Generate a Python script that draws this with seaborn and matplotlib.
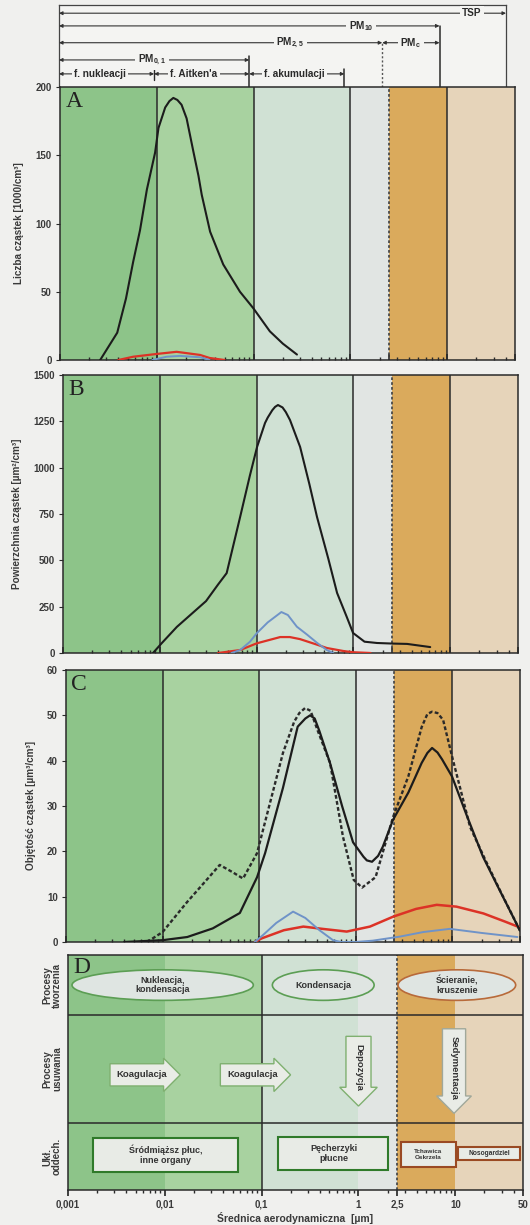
import numpy as np
import seaborn as sns
import matplotlib.pyplot as plt
from matplotlib.patches import Ellipse, Rectangle
from matplotlib.ticker import NullLocator, NullFormatter

# granice frakcji [um] i kolory tla
edges = [0.001, 0.01, 0.1, 1, 2.5, 10, 50]
band_colors = ['#8dc489', '#a8d2a0', '#d0e1d4', '#e1e5e3', '#daaa5c', '#e6d4ba']
xticks = [0.001, 0.01, 0.1, 1, 2.5, 10, 50]
xticklabels = ['0,001', '0,01', '0,1', '1', '2,5', '10', '50']

# A - liczba czastek [1000/cm3]
a_black_d = [0.0026, 0.0039, 0.0048, 0.0057, 0.0067, 0.0079, 0.0096, 0.0104, 0.0122, 0.0135, 0.0148,
             0.0163, 0.018, 0.0203, 0.0238, 0.0269, 0.0291, 0.0355, 0.0485, 0.0722, 0.099, 0.147, 0.2, 0.28]
a_black_v = [0, 20, 45, 72, 95, 125, 152, 170, 185, 189.7, 192,
             190.5, 187, 177, 153, 135, 121, 94, 70, 50, 38, 21, 12, 4]
a_red_d = [0.004, 0.0057, 0.0099, 0.016, 0.028, 0.035, 0.05]
a_red_v = [0, 2.4, 4.4, 6, 3.7, 1.5, 0]
a_blue_d = [0.009, 0.0126, 0.0174, 0.028, 0.035]
a_blue_v = [0, 2.4, 3, 2, 0]

# B - powierzchnia czastek [um2/cm3]
b_black_d = [0.0085, 0.0105, 0.015, 0.03, 0.04, 0.049, 0.0675, 0.085, 0.101, 0.122, 0.13, 0.145, 0.155,
             0.166, 0.185, 0.2, 0.221, 0.281, 0.35, 0.42, 0.55, 0.677, 0.85, 0.99, 1.3, 1.75, 2.5, 3.58, 6.2]
b_black_v = [0, 54, 141, 280, 370, 431, 734, 956, 1112, 1241, 1270, 1310, 1328,
             1338, 1325, 1300, 1257, 1112, 912, 734, 508, 324, 196, 108, 61, 54, 51, 49, 32]
b_blue_d = [0.055, 0.0675, 0.085, 0.1, 0.13, 0.18, 0.21, 0.26, 0.33, 0.42, 0.53, 0.62]
b_blue_v = [0, 16, 60, 106, 165, 221, 205, 142, 100, 55, 16, 0]
b_red_d = [0.04, 0.0675, 0.1, 0.175, 0.22, 0.28, 0.42, 0.53, 0.8, 1.0, 1.5]
b_red_v = [0, 16, 52, 86, 86, 75, 45, 27, 10, 4, 0]

# C - objetosc czastek [um3/cm3]
c_solid_d = [0.004, 0.01, 0.018, 0.033, 0.063, 0.095, 0.115, 0.176, 0.25, 0.3, 0.336, 0.375, 0.42, 0.54,
             0.72, 0.935, 1.2, 1.3, 1.47, 1.7, 1.9, 2.43, 3.5, 4.8, 5.5, 6.15, 7, 7.8, 9.9, 14, 20.7, 30, 50]
c_solid_v = [0, 0.4, 1.1, 3, 6.4, 14.3, 19.6, 34, 47.5, 49.3, 50, 49.3, 46.5, 39.5,
             30, 22, 18.8, 18, 17.7, 19, 21, 27, 33, 39.5, 41.7, 42.8, 41.8, 40.3, 36.5, 28, 18.8, 11.9, 2.5]
c_dash_d = [0.0069, 0.01, 0.0179, 0.028, 0.039, 0.052, 0.068, 0.0949, 0.115, 0.176, 0.23, 0.26, 0.298,
            0.34, 0.4, 0.541, 0.736, 0.95, 1.16, 1.6, 2.43, 3.5, 4.8, 5.5, 6.15, 7, 8, 10.1, 12, 15.2,
            22, 32, 50]
c_dash_v = [0, 2.2, 8.8, 13.5, 17, 15.5, 14, 19.6, 26.5, 41.7, 48.6, 50.5, 51.6,
            51, 46.8, 39.5, 23.2, 13.7, 12, 14.3, 27.6, 36.6, 47.4, 50.3, 50.8, 50.5, 49, 40.2, 34, 25.4,
            18, 10.8, 2.5]
c_blue_d = [0.09, 0.109, 0.15, 0.224, 0.3, 0.42, 0.58, 0.7, 1.0, 1.5, 2.87, 5, 9.4, 20, 47]
c_blue_v = [0, 1.5, 4.2, 6.7, 5.3, 2.6, 0.4, 0, 0, 0.3, 1.2, 2.2, 2.9, 2.0, 1.1]
c_red_d = [0.09, 0.106, 0.18, 0.286, 0.45, 0.805, 1.4, 2.44, 4.2, 6.87, 11, 20.9, 35, 50]
c_red_v = [0, 0.8, 2.6, 3.4, 2.9, 2.3, 3.4, 5.6, 7.3, 8.2, 7.8, 6.3, 4.5, 3.2]

sns.set_theme(style='white')
plt.rcParams['font.family'] = ['Liberation Sans', 'DejaVu Sans']
plt.rcParams['mathtext.fontset'] = 'custom'
plt.rcParams['mathtext.rm'] = 'Liberation Sans:bold'
plt.rcParams['mathtext.default'] = 'rm'

FIG_W, FIG_H = 530, 1225
fig = plt.figure(figsize=(FIG_W / 100, FIG_H / 100), dpi=100)
fig.patch.set_facecolor('#f0f0ee')


def place(left, right, top, bottom):
    return fig.add_axes([left / FIG_W, 1 - bottom / FIG_H, (right - left) / FIG_W, (bottom - top) / FIG_H])


axh = place(59, 506, 5, 87)
axA = place(60, 515, 87, 360)
axB = place(63, 518, 375, 653)
axC = place(66, 520, 670, 942)
axD = place(68, 523, 955, 1190)

INK = '#2a2a2a'
LOG0, LOG1 = np.log10(edges[0]), np.log10(edges[-1])


def fx(d):
    return (np.log10(d) - LOG0) / (LOG1 - LOG0)


def base(ax):
    ax.set_xscale('log')
    ax.set_xlim(edges[0], edges[-1])
    for a, b, c in zip(edges[:-1], edges[1:], band_colors):
        ax.axvspan(a, b, color=c, lw=0, zorder=0)
    for s in ax.spines.values():
        s.set_color(INK)
        s.set_linewidth(1.1)


def panel(ax, ylim, yticks, ylabel, letter):
    base(ax)
    ax.set_ylim(*ylim)
    ax.set_yticks(yticks)
    ax.set_yticklabels([str(t) for t in yticks], fontsize=7, fontweight='bold', color='#3a3a3a')
    ax.tick_params(axis='y', length=3, width=0.8, direction='out', pad=3, left=True, color=INK)
    ax.tick_params(axis='x', which='both', direction='in', bottom=True, labelbottom=False, color=INK)
    ax.tick_params(axis='x', which='major', length=4)
    ax.tick_params(axis='x', which='minor', length=2)
    ax.set_xticks(xticks)
    ax.xaxis.set_minor_formatter(NullFormatter())
    for v in [0.01, 0.1, 1, 10]:
        ax.axvline(v, color=INK, lw=1.1, zorder=1)
    ax.axvline(2.5, color='#4a4a4a', lw=1.3, ls=(0, (1.5, 1.2)), zorder=1)
    ax.set_ylabel(ylabel, fontsize=7.2, fontweight='bold', color='#3a3a3a', labelpad=8)
    ax.set_xlabel('')
    ax.text(0.012, 0.985, letter, transform=ax.transAxes, ha='left', va='top',
            fontsize=17, family='Liberation Serif', color='#222222')


def curve(ax, d, v, color, lw, ls='-'):
    sns.lineplot(x=d, y=v, ax=ax, color=color, lw=lw, linestyle=ls, estimator=None, zorder=3)


BLACK, RED, BLUE = '#1c1c1c', '#dc3226', '#6f93c8'

# panel A
panel(axA, (0, 200), [0, 50, 100, 150, 200], 'Liczba cząstek [1000/cm³]', 'A')
curve(axA, a_red_d, a_red_v, RED, 1.6)
curve(axA, a_blue_d, a_blue_v, BLUE, 1.4)
curve(axA, a_black_d, a_black_v, BLACK, 1.5)

# panel B
panel(axB, (0, 1500), [0, 250, 500, 750, 1000, 1250, 1500], 'Powierzchnia cząstek [µm²/cm³]', 'B')
curve(axB, b_red_d, b_red_v, RED, 1.6)
curve(axB, b_blue_d, b_blue_v, BLUE, 1.4)
curve(axB, b_black_d, b_black_v, BLACK, 1.5)

# panel C
panel(axC, (0, 60), [0, 10, 20, 30, 40, 50, 60], 'Objętość cząstek [µm³/cm³]', 'C')
curve(axC, c_red_d, c_red_v, RED, 1.8)
curve(axC, c_blue_d, c_blue_v, BLUE, 1.4)
curve(axC, c_dash_d, c_dash_v, '#2a2a2a', 1.7, (0, (1.6, 1.0)))
curve(axC, c_solid_d, c_solid_v, BLACK, 1.6)

# naglowek z zakresami frakcji
axh.set_xscale('log')
axh.set_xlim(edges[0], edges[-1])
axh.set_ylim(0, 1)
axh.set_facecolor('#f4f4f2')
axh.xaxis.set_major_locator(NullLocator())
axh.xaxis.set_minor_locator(NullLocator())
axh.set_yticks([])
for s in axh.spines.values():
    s.set_color('#444444')
    s.set_linewidth(0.9)
axh.spines['bottom'].set_visible(False)

range_lo = [0.001, 0.001, 0.001, 2.5, 0.001, 0.001, 0.01, 0.1]
range_hi = [50, 10, 2.5, 10, 0.1, 0.01, 0.1, 1]
range_names = ['TSP', 'PM$_{10}$', 'PM$_{2,5}$', 'PM$_{c}$', 'PM$_{0,1}$',
               'f. nukleacji', "f. Aitken'a", 'f. akumulacji']
row_y = [0.90, 0.745, 0.54, 0.54, 0.33, 0.16, 0.16, 0.16]
label_x = [22, 1.5, 0.27, 5.0, 0.0095, 0.0027, 0.026, 0.3]
for lo, hi, name, y, lx in zip(range_lo, range_hi, range_names, row_y, label_x):
    axh.annotate('', xy=(hi, y), xytext=(lo, y),
                 arrowprops=dict(arrowstyle='<|-|>', mutation_scale=5, lw=0.8,
                                 color='#333333', shrinkA=0, shrinkB=0))
    axh.text(lx, y, name, ha='center', va='center', fontsize=7.2, fontweight='bold', color='#2a2a2a',
             bbox=dict(boxstyle='square,pad=0.25', fc='#f4f4f2', ec='none'))
axh.plot([10, 10], [0, 0.745], color=INK, lw=1.1)
axh.plot([1, 1], [0, 0.22], color=INK, lw=1.1)
axh.plot([0.1, 0.1], [0, 0.38], color=INK, lw=1.1)
axh.plot([0.01, 0.01], [0.08, 0.22], color=INK, lw=1.0)
axh.plot([2.5, 2.5], [0, 0.54], color='#555555', lw=1.0, ls=(0, (1.5, 1.5)))

# panel D - procesy
base(axD)
axD.set_ylim(0, 1)
axD.set_yticks([])
axD.set_xticks(xticks)
axD.set_xticklabels(xticklabels, fontsize=7, fontweight='bold', color='#3a3a3a')
axD.xaxis.set_minor_formatter(NullFormatter())
axD.tick_params(axis='x', which='major', length=4, direction='out', bottom=True, color=INK, pad=3)
axD.tick_params(axis='x', which='minor', length=2, direction='out', bottom=True, color=INK)
axD.set_xlabel('Średnica aerodynamiczna  [µm]', fontsize=7.5, fontweight='bold', color='#3a3a3a', labelpad=2)
axD.axvline(0.1, color=INK, lw=1.1, zorder=1)
axD.axvline(2.5, color='#4a4a4a', lw=1.3, ls=(0, (1.5, 1.2)), zorder=1)
for yy in [0.745, 0.285]:
    axD.axhline(yy, color=INK, lw=1.1, zorder=1)
axD.text(0.012, 0.99, 'D', transform=axD.transAxes, ha='left', va='top',
         fontsize=17, family='Liberation Serif', color='#222222')

row_names = ['Procesy\ntworzenia', 'Procesy\nusuwania', 'Ukł.\noddech.']
row_mid = [0.872, 0.515, 0.142]
for name, ym in zip(row_names, row_mid):
    axD.text(-0.035, ym, name, transform=axD.transAxes, rotation=90, ha='center', va='center',
             fontsize=7, fontweight='bold', color='#3a3a3a', linespacing=1.0)

# procesy tworzenia - elipsy
ell_lo = [0.0011, 0.129, 2.56]
ell_hi = [0.082, 1.45, 42]
ell_text = ['Nukleacja,\nkondensacja', 'Kondensacja', 'Ścieranie,\nkruszenie']
ell_edge = ['#5c9e54', '#5c9e54', '#b86a3a']
for lo, hi, t, ec in zip(ell_lo, ell_hi, ell_text, ell_edge):
    cx = (fx(lo) + fx(hi)) / 2
    axD.add_patch(Ellipse((cx, 0.872), fx(hi) - fx(lo), 0.13, transform=axD.transAxes,
                          fc='#dfe5e2', ec=ec, lw=1.2, zorder=4))
    axD.text(cx, 0.872, t, transform=axD.transAxes, ha='center', va='center', fontsize=6.5,
             fontweight='bold', color='#333333', linespacing=1.05, zorder=5)

# procesy usuwania - strzalki
arr_x = [0.0058, 0.08, 1.0, 9.7]
arr_y = [0.49, 0.49, 0.52, 0.52]
arr_text = ['Koagulacja', 'Koagulacja', 'Depozycja', 'Sedymentacja']
arr_rot = [0, 0, -90, -90]
arr_pad = [0.7, 0.7, 0.85, 0.75]
arr_edge = ['#7fb070', '#7fb070', '#7fb070', '#a0a89a']
for x, y, t, r, p, ec in zip(arr_x, arr_y, arr_text, arr_rot, arr_pad, arr_edge):
    axD.text(fx(x), y, t, transform=axD.transAxes, rotation=r, ha='center', va='center',
             fontsize=6.8, fontweight='bold', color='#333333', zorder=5, rotation_mode='anchor',
             bbox=dict(boxstyle=f'rarrow,pad={p}', fc='#e9ece6', ec=ec, lw=1.0))

# uklad oddechowy - prostokaty
box_lo = [0.00181, 0.149, 2.73, 10.6]
box_hi = [0.0573, 2.04, 10.1, 47]
box_bot = [0.077, 0.085, 0.098, 0.128]
box_top = [0.221, 0.226, 0.204, 0.183]
box_text = ['Śródmiąższ płuc,\ninne organy', 'Pęcherzyki\npłucne', 'Tchawica\nOskrzela', 'Nosogardziel']
box_edge = ['#2f7a2a', '#2f7a2a', '#9a4a23', '#9a4a23']
box_fs = [6.5, 6.5, 4.6, 4.8]
for lo, hi, b, t, txt, ec, fs in zip(box_lo, box_hi, box_bot, box_top, box_text, box_edge, box_fs):
    axD.add_patch(Rectangle((fx(lo), b), fx(hi) - fx(lo), t - b, transform=axD.transAxes,
                            fc='#e8ebe6', ec=ec, lw=1.5, zorder=4))
    axD.text((fx(lo) + fx(hi)) / 2, (b + t) / 2, txt, transform=axD.transAxes, ha='center',
             va='center', fontsize=fs, fontweight='bold', color='#333333', linespacing=1.1, zorder=5)

fig.savefig('out.png', dpi=100, facecolor=fig.get_facecolor())
